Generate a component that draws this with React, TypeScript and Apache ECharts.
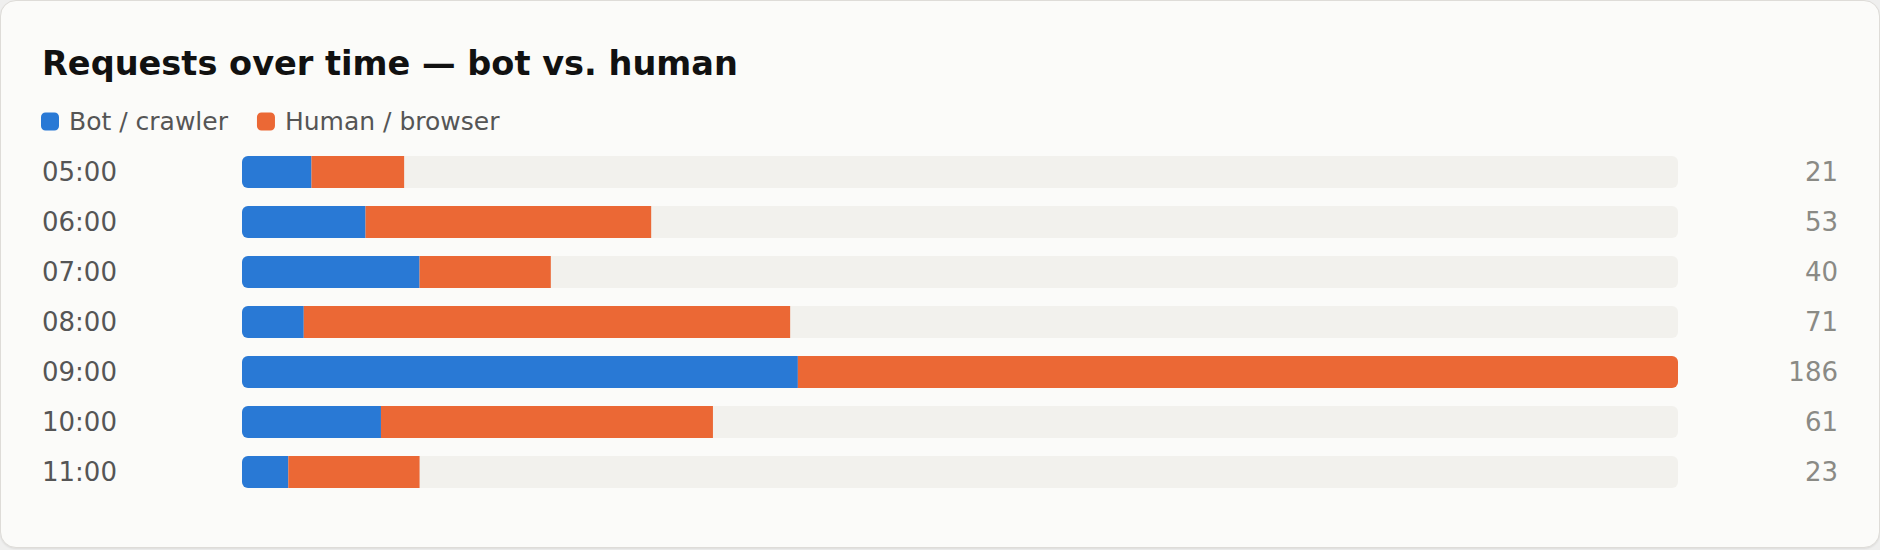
import * as echarts from "echarts";
import { useEffect, useRef } from "react";

const hours = ["05:00", "06:00", "07:00", "08:00", "09:00", "10:00", "11:00"];
const botRequests = [9, 16, 23, 8, 72, 18, 6];
const humanRequests = [12, 37, 17, 63, 114, 43, 17];
const seriesNames = ["Bot / crawler", "Human / browser"];
const chartTitle = "Requests over time — bot vs. human";

const FONT = "'DejaVu Sans', Verdana, sans-serif";
const BLUE = "#2979d5";
const ORANGE = "#eb6835";
const TRACK = "#f2f1ed";

export default function App() {
	const chartRef = useRef<HTMLDivElement>(null);

	useEffect(() => {
		if (!chartRef.current) return;
		const chart = echarts.init(chartRef.current, null, { renderer: "svg" });

		const totals = hours.map((_, i) => botRequests[i] + humanRequests[i]);
		const maxTotal = Math.max(...totals);

		chart.setOption({
			animation: false,
			textStyle: { fontFamily: FONT },
			title: {
				text: chartTitle,
				left: 37,
				top: 41,
				textStyle: { fontFamily: FONT, fontSize: 33.6, fontWeight: "bold", color: "#111111" }
			},
			legend: {
				left: 36,
				top: 104,
				icon: "roundRect",
				itemWidth: 18,
				itemHeight: 18,
				itemGap: 29,
				textStyle: { fontFamily: FONT, fontSize: 25, color: "#555555", padding: [0, 0, 0, 5] },
				data: seriesNames
			},
			grid: { left: 242, right: 202, top: 147, height: 350 },
			xAxis: { type: "value", min: 0, max: maxTotal, show: false },
			yAxis: [
				{
					type: "category",
					data: hours,
					inverse: true,
					axisLine: { show: false },
					axisTick: { show: false },
					axisLabel: { align: "left", margin: 200, fontSize: 26, color: "#555555", fontFamily: FONT }
				},
				{
					type: "category",
					position: "right",
					data: totals.map(String),
					inverse: true,
					axisLine: { show: false },
					axisTick: { show: false },
					axisLabel: { align: "right", margin: 160, fontSize: 26, color: "#8a8a85", fontFamily: FONT }
				}
			],
			series: [
				{
					name: seriesNames[0],
					type: "bar",
					stack: "total",
					barWidth: 32,
					showBackground: true,
					backgroundStyle: { color: TRACK, borderRadius: 6 },
					itemStyle: { color: BLUE, borderRadius: [6, 0, 0, 6] },
					data: botRequests
				},
				{
					name: seriesNames[1],
					type: "bar",
					stack: "total",
					barWidth: 32,
					itemStyle: { color: ORANGE },
					data: humanRequests.map((v, i) => ({
						value: v,
						itemStyle: { borderRadius: totals[i] === maxTotal ? [0, 6, 6, 0] : 0 }
					}))
				}
			]
		});

		return () => chart.dispose();
	}, []);

	return (
		<div style={{ position: "fixed", left: 0, top: 0, width: 1880, height: 550, background: "#efefee" }}>
			<div
				style={{
					position: "absolute",
					left: 0,
					top: 0,
					width: 1880,
					height: 548,
					boxSizing: "border-box",
					border: "1px solid #dedcd8",
					borderRadius: 16,
					background: "#fbfbf9",
					boxShadow: "0 1px 2px rgba(0,0,0,0.08)"
				}}
			/>
			<div ref={chartRef} style={{ position: "absolute", left: 0, top: 0, width: 1880, height: 550 }} />
		</div>
	);
}
